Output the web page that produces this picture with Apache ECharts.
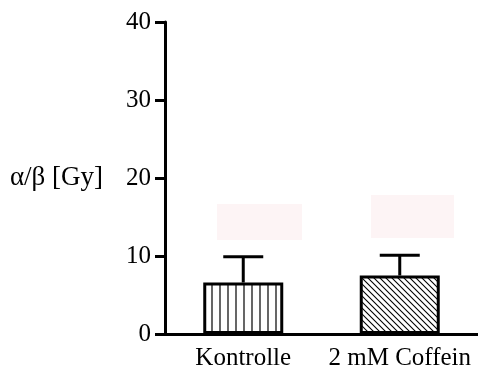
<!DOCTYPE html>
<html>
<head>
<meta charset="utf-8">
<script src="https://cdn.jsdelivr.net/npm/echarts@6/dist/echarts.min.js"></script>
<style>
  html, body { margin: 0; padding: 0; background: #fff; }
  #chart { width: 478px; height: 371px; }
</style>
</head>
<body>
<div id="chart"></div>
<script>
var categories = ['Kontrolle', '2 mM Coffein'];
var means = [6.6, 7.5];
var errors = [3.3, 2.6];
var yTicks = [0, 10, 20, 30, 40];

// 填充图案：竖线 / 斜线
function makePattern(kind) {
  var c = document.createElement('canvas');
  var ctx;
  if (kind === 'vertical') {
    c.width = 8; c.height = 8;
    ctx = c.getContext('2d');
    ctx.fillStyle = '#fff';
    ctx.fillRect(0, 0, 8, 8);
    ctx.strokeStyle = '#000';
    ctx.lineWidth = 1.2;
    ctx.beginPath();
    ctx.moveTo(4, 0); ctx.lineTo(4, 8);
    ctx.stroke();
  } else {
    c.width = 6; c.height = 6;
    ctx = c.getContext('2d');
    ctx.fillStyle = '#fff';
    ctx.fillRect(0, 0, 6, 6);
    ctx.strokeStyle = '#000';
    ctx.lineWidth = 1.1;
    ctx.beginPath();
    ctx.moveTo(-1, -1); ctx.lineTo(7, 7);
    ctx.moveTo(-4, 2); ctx.lineTo(2, 8);
    ctx.moveTo(2, -4); ctx.lineTo(8, 2);
    ctx.stroke();
  }
  return { image: c, repeat: 'repeat' };
}

var patterns = [makePattern('vertical'), makePattern('diagonal')];
var font = 'Liberation Serif';

var myChart = echarts.init(document.getElementById('chart'));

var barData = means.map(function (v, i) {
  return { value: v, itemStyle: { color: patterns[i] } };
});
var errData = means.map(function (v, i) {
  return [i, v, v + errors[i]];
});

var option = {
  animation: false,
  backgroundColor: '#fff',
  grid: {
    left: 165,
    right: 0,
    top: 22,
    bottom: 37,
    containLabel: false,
    outerBoundsMode: 'none'
  },
  xAxis: {
    type: 'category',
    data: categories,
    axisLine: { lineStyle: { color: '#000', width: 3 } },
    axisTick: { alignWithLabel: true, length: 10, lineStyle: { color: '#000', width: 3 } },
    axisLabel: { color: '#000', fontFamily: font, fontSize: 25, margin: 12, interval: 0 },
    splitLine: { show: false }
  },
  yAxis: {
    type: 'value',
    min: yTicks[0],
    max: yTicks[yTicks.length - 1],
    interval: 10,
    name: 'α/β [Gy]',
    nameLocation: 'middle',
    nameRotate: 0,
    nameGap: 62,
    nameTextStyle: { color: '#000', fontFamily: font, fontSize: 27 },
    axisLine: { show: true, lineStyle: { color: '#000', width: 3 } },
    axisTick: { show: true, length: 10, lineStyle: { color: '#000', width: 3 } },
    axisLabel: { color: '#000', fontFamily: font, fontSize: 25, margin: 14 },
    splitLine: { show: false }
  },
  graphic: [
    { type: 'rect', shape: { x: 217, y: 204, width: 85, height: 36 }, style: { fill: '#fdf4f5' }, z: -1 },
    { type: 'rect', shape: { x: 371, y: 195, width: 83, height: 43 }, style: { fill: '#fdf4f5' }, z: -1 }
  ],
  series: [{
    type: 'bar',
    data: barData,
    barWidth: 80,
    itemStyle: { borderColor: '#000', borderWidth: 3 }
  }, {
    // 误差线（只画上半部分）
    type: 'custom',
    data: errData,
    z: 3,
    renderItem: function (params, api) {
      var x = api.value(0);
      var p0 = api.coord([x, api.value(1)]);
      var p1 = api.coord([x, api.value(2)]);
      var half = 20;
      var st = { stroke: '#000', lineWidth: 3 };
      return {
        type: 'group',
        children: [
          { type: 'line', shape: { x1: p0[0], y1: p0[1], x2: p1[0], y2: p1[1] }, style: st },
          { type: 'line', shape: { x1: p1[0] - half, y1: p1[1], x2: p1[0] + half, y2: p1[1] }, style: st }
        ]
      };
    }
  }]
};
myChart.setOption(option);
</script>
</body>
</html>
